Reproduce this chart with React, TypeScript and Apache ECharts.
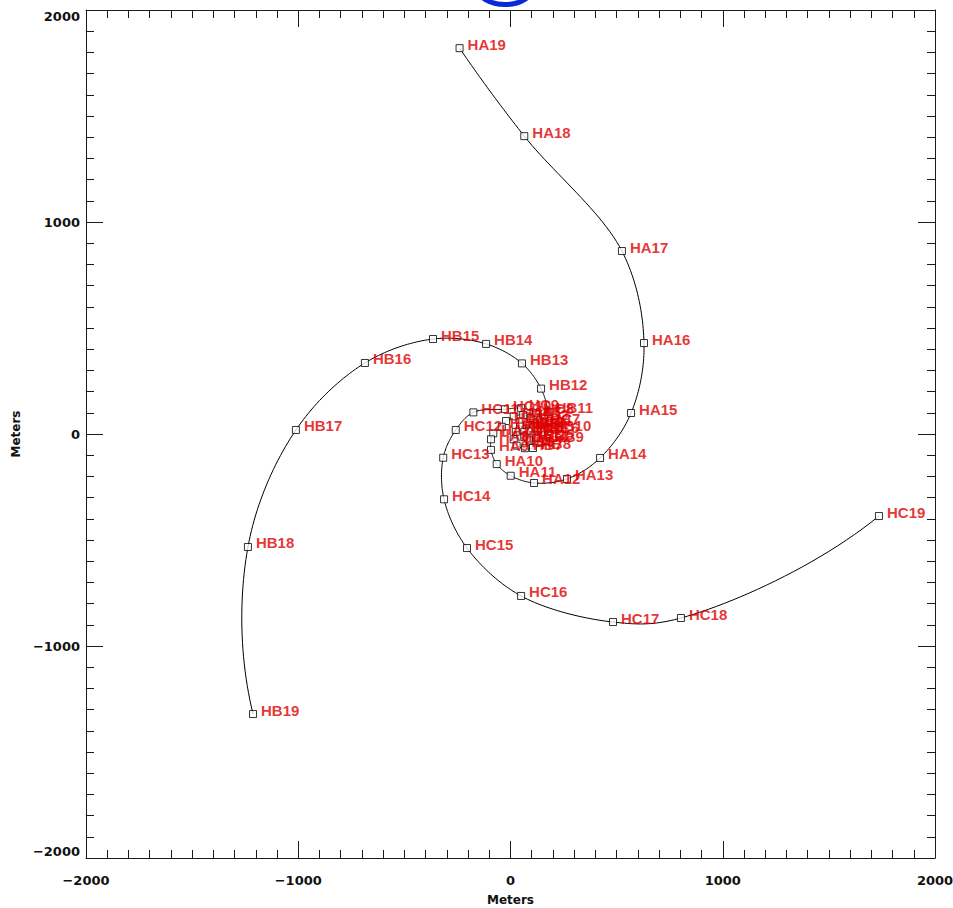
import React, { useEffect, useRef } from "react";
import * as echarts from "echarts";

// Arm HA, points 1..19 (meters)
const haX = [115, 95, 60, 15, -21, -41, -81, -92, -92, -65, 1, 111, 266, 422, 568, 629, 525, 65, -240];
const haY = [50, 75, 90, 83, 61, 34, 3, -25, -75, -142, -197, -231, -212, -113, 99, 429, 863, 1405, 1820];
// Arm HB
const hbX = [95, 75, 45, 25, 15, 29, 68, 106, 167, 162, 175, 144, 54, -115, -365, -686, -1011, -1237, -1213];
const hbY = [30, 40, 35, 10, -25, -55, -67, -66, -33, 19, 104, 214, 333, 425, 448, 335, 19, -533, -1321];
// Arm HC
const hcX = [85, 65, 65, 90, 120, 145, 150, 120, 50, -26, -175, -258, -317, -313, -205, 50, 483, 803, 1736];
const hcY = [15, 10, -15, -30, -20, 10, 55, 100, 122, 117, 102, 19, -112, -308, -538, -764, -887, -868, -387];

const armPrefixes = ["HA", "HB", "HC"];
const xTicks = [-2000, -1000, 0, 1000, 2000];
const yTicks = [-2000, -1000, 0, 1000, 2000];

const LABEL_RED = "#e00000";
const AXIS_COLOR = "#1a1a1a";
const FONT = "DejaVu Sans";
const LABEL_FONT = "Liberation Sans";

type P = [number, number];

// phantom end point continuing the turning of the last two segments (drawing only)
function phantom(p0: P, p1: P, p2: P): P {
  const v1 = [p1[0] - p0[0], p1[1] - p0[1]];
  const v2 = [p2[0] - p1[0], p2[1] - p1[1]];
  const a1 = Math.atan2(v1[1], v1[0]);
  const a2 = Math.atan2(v2[1], v2[0]);
  let turn = a2 - a1;
  while (turn > Math.PI) turn -= 2 * Math.PI;
  while (turn < -Math.PI) turn += 2 * Math.PI;
  const l1 = Math.hypot(v1[0], v1[1]) || 1;
  const l2 = Math.hypot(v2[0], v2[1]);
  const k = Math.min(l2 / l1, 1.5);
  const c = Math.cos(turn), s = Math.sin(turn);
  return [p2[0] + k * (v2[0] * c - v2[1] * s), p2[1] + k * (v2[0] * s + v2[1] * c)];
}

// Centripetal Catmull-Rom through pixel points (drawing only)
function splinePixels(pts: P[], steps = 24): number[][] {
  const n = pts.length;
  if (n < 3) return pts.slice();
  const ext: P[] = [phantom(pts[2], pts[1], pts[0]), ...pts, phantom(pts[n - 3], pts[n - 2], pts[n - 1])];
  const out: number[][] = [];
  const dist = (a: P, b: P) => Math.max(Math.pow(Math.hypot(b[0] - a[0], b[1] - a[1]), 0.5), 1e-4);
  const lerp = (a: number[], b: number[], ta: number, tb: number, t: number) => {
    const d = tb - ta;
    const w1 = (tb - t) / d;
    const w2 = (t - ta) / d;
    return [a[0] * w1 + b[0] * w2, a[1] * w1 + b[1] * w2];
  };
  for (let i = 1; i < ext.length - 2; i++) {
    const p0 = ext[i - 1], p1 = ext[i], p2 = ext[i + 1], p3 = ext[i + 2];
    const t0 = 0;
    const t1 = t0 + dist(p0, p1);
    const t2 = t1 + dist(p1, p2);
    const t3 = t2 + dist(p2, p3);
    for (let s = 0; s <= steps; s++) {
      if (i > 1 && s === 0) continue;
      const t = t1 + ((t2 - t1) * s) / steps;
      const a1 = lerp(p0, p1, t0, t1, t);
      const a2 = lerp(p1, p2, t1, t2, t);
      const a3 = lerp(p2, p3, t2, t3, t);
      const b1 = lerp(a1, a2, t0, t2, t);
      const b2 = lerp(a2, a3, t1, t3, t);
      out.push(lerp(b1, b2, t1, t2, t));
    }
  }
  return out;
}

function makeCurve(prefix: string, xs: number[], ys: number[]) {
  return {
    type: "custom",
    name: prefix + "-curve",
    data: xs.map((x, i) => [x, ys[i]]),
    renderItem: (params: any, api: any) => {
      if (params.dataIndex !== 0) return null;
      const px: P[] = xs.map((x, i) => api.coord([x, ys[i]]) as P);
      return {
        type: "polyline",
        shape: { points: splinePixels(px) },
        style: { stroke: "#000", lineWidth: 1, fill: null },
        silent: true,
      };
    },
    clip: true,
    silent: true,
    z: 1,
  };
}

function makeMarkers(prefix: string, xs: number[], ys: number[]) {
  return {
    type: "scatter",
    name: prefix,
    data: xs.map((x, i) => ({ value: [x, ys[i]], name: `${prefix}${i + 1}` })),
    symbol: "rect",
    symbolSize: 7,
    itemStyle: { color: "#fff", borderColor: "#000", borderWidth: 1 },
    label: {
      show: true,
      formatter: "{b}",
      position: "right",
      distance: 4,
      offset: [0, -4],
      color: LABEL_RED,
      fontFamily: LABEL_FONT,
      fontWeight: "bold",
      fontSize: 15,
    },
    emphasis: { disabled: true },
    z: 2,
  };
}

const fmt = (v: number) => String(v).replace("-", "\u2212");

function axisCommon(show: boolean) {
  return {
    type: "value",
    min: xTicks[0],
    max: xTicks[xTicks.length - 1],
    interval: 1000,
    axisLine: { show: true, onZero: false, lineStyle: { color: AXIS_COLOR, width: 1 } },
    axisTick: { show: true, inside: true, length: 17, lineStyle: { color: AXIS_COLOR, width: 1 } },
    minorTick: { show: true, splitNumber: 10, length: 8, lineStyle: { color: AXIS_COLOR, width: 1 } },
    splitLine: { show: false },
    minorSplitLine: { show: false },
    axisLabel: {
      show,
      fontFamily: FONT,
      fontSize: 13,
      fontWeight: "bold",
      color: "#111",
      formatter: fmt,
    },
  };
}

export default function App() {
  const ref = useRef<HTMLDivElement>(null);
  useEffect(() => {
    document.body.style.margin = "0";
    if (!ref.current) return;
    const chart = echarts.init(ref.current, undefined, { renderer: "svg" });
    chart.setOption({
      animation: false,
      backgroundColor: "#fff",
      grid: { left: 86, right: 18, top: 10, bottom: 50, containLabel: false, outerBoundsMode: "none" },
      xAxis: [
        {
          ...axisCommon(true),
          position: "bottom",
          axisLabel: { ...axisCommon(true).axisLabel, margin: 16 },
          name: "Meters",
          nameLocation: "middle",
          nameGap: 36,
          nameTextStyle: { fontFamily: FONT, fontSize: 12, fontWeight: "bold", color: "#111" },
        },
        { ...axisCommon(false), position: "top" },
      ],
      yAxis: [
        {
          ...axisCommon(true),
          min: yTicks[0],
          max: yTicks[yTicks.length - 1],
          position: "left",
          axisLabel: {
            ...axisCommon(true).axisLabel,
            margin: 6,
            verticalAlignMaxLabel: "top",
            verticalAlignMinLabel: "bottom",
          },
          name: "Meters",
          nameLocation: "middle",
          nameGap: 58,
          nameTextStyle: { fontFamily: FONT, fontSize: 12, fontWeight: "bold", color: "#111" },
        },
        { ...axisCommon(false), min: yTicks[0], max: yTicks[yTicks.length - 1], position: "right" },
      ],
      series: [
        makeCurve(armPrefixes[0], haX, haY),
        makeCurve(armPrefixes[1], hbX, hbY),
        makeCurve(armPrefixes[2], hcX, hcY),
        makeMarkers(armPrefixes[0], haX, haY),
        makeMarkers(armPrefixes[1], hbX, hbY),
        makeMarkers(armPrefixes[2], hcX, hcY),
      ],
      graphic: [
        {
          type: "ellipse",
          shape: { cx: 505, cy: -11.5, rx: 27, ry: 16 },
          style: { fill: "none", stroke: "#0a2ad8", lineWidth: 5 },
          silent: true,
        },
      ],
    });
    return () => chart.dispose();
  }, []);
  return <div ref={ref} style={{ width: 953, height: 908 }} />;
}
